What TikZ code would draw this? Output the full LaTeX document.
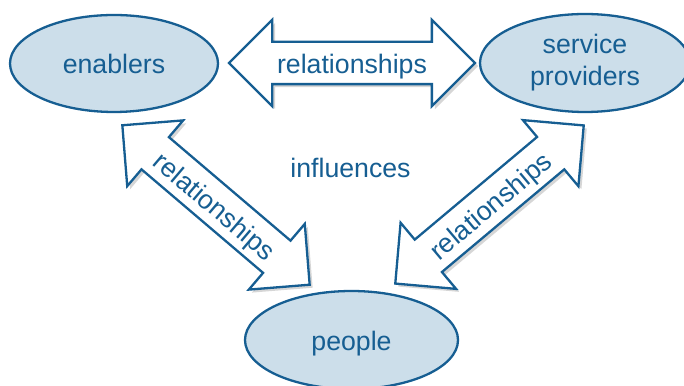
\documentclass[tikz,border=0pt]{standalone}
\usepackage{fontspec}
\setmainfont{Liberation Sans}
\usetikzlibrary{shapes.geometric,shapes.arrows,shadows}
\definecolor{linkblue}{RGB}{22,94,146}
\definecolor{partyfill}{RGB}{204,222,234}
\tikzset{
  party/.style={ellipse, draw=linkblue, fill=partyfill, line width=2.3pt, text=linkblue, inner sep=0pt},
  relation/.style={double arrow, draw=linkblue, fill=white, line width=2.3pt, text=linkblue,
    double arrow head extend=22pt, minimum height=246pt,
    text height=28pt, text depth=6pt, inner ysep=3pt, inner xsep=0pt,
    drop shadow={fill=black!35, opacity=0.45, shadow xshift=3pt, shadow yshift=-3pt}}
}
\begin{document}
\begin{tikzpicture}[x=1pt,y=1pt,font=\fontsize{26.7}{32}\selectfont]
\useasboundingbox[fill=white] (0,0) rectangle (684,385);
% the three parties
\node[party, minimum width=208pt, minimum height=97pt] (enablers) at (114,321.5) {enablers};
\node[party, minimum width=210pt, minimum height=98pt, align=center] (providers) at (585,322) {service\\providers};
\node[party, minimum width=213pt, minimum height=98pt, text height=27pt, text depth=5.6pt] (people) at (351.5,45) {people};
% relationships between them
\node[relation] (rel top) at (352,322) {relationships};
\node[relation, rotate=-40.4] (rel left) at (216,180) {relationships};
\node[relation, rotate=40] (rel right) at (489.5,180.5) {relationships};
\node[text=linkblue] (influences) at (350.5,217) {influences};
\end{tikzpicture}
\end{document}
